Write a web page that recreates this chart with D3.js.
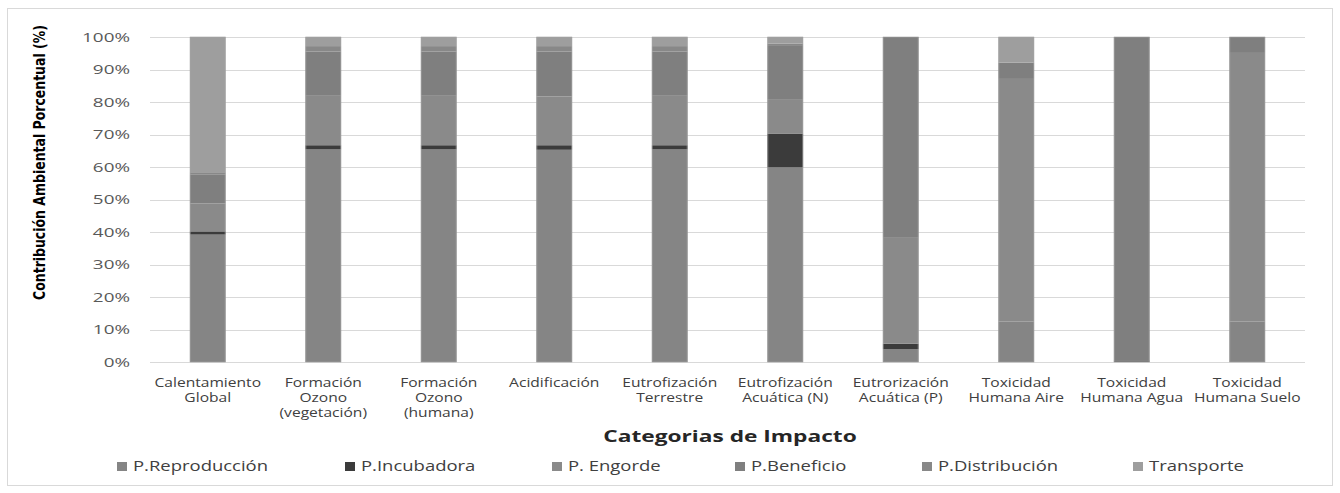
<!DOCTYPE html>
<html><head><meta charset="utf-8">
<script src="https://cdn.jsdelivr.net/npm/d3@7"></script>
<style>body{margin:0;background:#fff}svg{display:block}</style>
</head><body>
<svg id="c" width="1340" height="493"></svg>
<script>
const categories = ["Calentamiento Global","Formación Ozono (vegetación)","Formación Ozono (humana)","Acidificación","Eutrofización Terrestre","Eutrofización Acuática (N)","Eutrorización Acuática (P)","Toxicidad Humana Aire","Toxicidad Humana Agua","Toxicidad Humana Suelo"];
const categoryLines = [["Calentamiento","Global"],["Formación","Ozono","(vegetación)"],["Formación","Ozono","(humana)"],["Acidificación"],["Eutrofización","Terrestre"],["Eutrofización","Acuática (N)"],["Eutrorización","Acuática (P)"],["Toxicidad","Humana Aire"],["Toxicidad","Humana Agua"],["Toxicidad","Humana Suelo"]];
const seriesNames = ["P.Reproducción","P.Incubadora","P. Engorde","P.Beneficio","P.Distribución","Transporte"];
const reproduccion = [39.2,65.4,65.4,65.3,65.4,59.9,4.0,12.5,0.1,12.5];
const incubadora   = [1.0,1.3,1.3,1.4,1.3,10.4,1.6,0.0,0.4,0.0];
const engorde      = [8.6,15.2,15.2,15.0,15.2,10.6,32.6,74.6,0.0,82.6];
const beneficio    = [8.8,13.6,13.6,13.8,13.6,16.6,61.8,5.0,99.5,4.9];
const distribucion = [0.8,1.7,1.7,1.7,1.7,0.5,0.0,0.0,0.0,0.0];
const transporte   = [41.6,2.8,2.8,2.8,2.8,2.0,0.0,7.9,0.0,0.0];
const yTicks = [0,10,20,30,40,50,60,70,80,90,100];

const seriesValues = [reproduccion,incubadora,engorde,beneficio,distribucion,transporte];
const colors = ["#858585","#3b3b3b","#8a8a8a","#7f7f7f","#888888","#9e9e9e"];
const FONT = "'Open Sans',sans-serif";

const svg = d3.select("#c");
svg.append("rect").attr("x",7.5).attr("y",8.5).attr("width",1325).attr("height",477)
  .attr("fill","#fff").attr("stroke","#d9d9d9");

const x = d3.scaleBand().domain(categories).range([150,1305]).paddingInner(0.69).paddingOuter(0.345);
const y = d3.scaleLinear().domain([0,100]).range([362,37]);

// grid
svg.append("g").selectAll("line").data(yTicks).join("line")
  .attr("x1",150).attr("x2",1305).attr("y1",d=>Math.round(y(d))+0.5).attr("y2",d=>Math.round(y(d))+0.5)
  .attr("stroke","#d9d9d9").attr("stroke-width",1);

// y axis
const yAxis = d3.axisLeft(y).tickValues(yTicks).tickFormat(d=>d+"%").tickSize(0).tickPadding(0);
const ga = svg.append("g").attr("transform","translate(130,0)").call(yAxis);
ga.select(".domain").remove();
ga.selectAll(".tick text").attr("font-family",FONT).attr("font-size",13).attr("fill","#595959")
  .attr("x",0).attr("transform","scale(1.45,1)");

// stack
const rows = categories.map((c,i)=>{const o={cat:c}; seriesNames.forEach((s,j)=>o[s]=seriesValues[j][i]); return o;});
const stacked = d3.stack().keys(seriesNames)(rows);
svg.append("g").selectAll("g").data(stacked).join("g").attr("fill",(d,i)=>colors[i])
  .selectAll("rect").data(d=>d).join("rect")
  .attr("x",d=>x(d.data.cat)).attr("width",x.bandwidth())
  .attr("y",d=>y(d[1])).attr("height",d=>Math.max(0,y(d[0])-y(d[1])));
svg.append("g").selectAll("rect").data(categories).join("rect")
  .attr("x",d=>x(d)+0.5).attr("width",x.bandwidth()-1).attr("y",y(100)).attr("height",y(0)-y(100))
  .attr("fill","none").attr("stroke","#a3a3a3").attr("stroke-width",1).attr("stroke-opacity",0.6);

// x labels
categories.forEach((c,i)=>{
  const g = svg.append("g").attr("transform",`translate(${x(c)+x.bandwidth()/2},386.5) scale(1.2,1)`);
  const t = g.append("text").attr("text-anchor","middle").attr("font-family",FONT)
    .attr("font-size",13).attr("fill","#404040");
  categoryLines[i].forEach((l,k)=>t.append("tspan").attr("x",0).attr("dy",k?15.5:0).text(l));
});

// axis titles
svg.append("g").attr("transform","translate(730,442) scale(1.42,1)")
  .append("text").attr("text-anchor","middle")
  .attr("font-family",FONT).attr("font-weight","bold").attr("font-size",16).attr("fill","#262626")
  .text("Categorias de Impacto");
const yt = svg.append("text").attr("text-anchor","middle")
  .attr("font-family","'DejaVu Sans Condensed','Liberation Sans Narrow',sans-serif").attr("font-stretch","condensed")
  .attr("font-weight","bold").attr("font-size",16).attr("fill","#000")
  .text("Contribución Ambiental Porcentual (%)");
const natural = yt.node().getComputedTextLength();
yt.attr("transform",`translate(45,162.5) rotate(-90) scale(${275/natural},1)`);

// legend
const legendX = [117,345,552,735,922,1133];
seriesNames.forEach((s,i)=>{
  svg.append("rect").attr("x",legendX[i]).attr("y",462).attr("width",10).attr("height",9).attr("fill",colors[i]);
  svg.append("g").attr("transform",`translate(${legendX[i]+16},471) scale(1.32,1)`)
    .append("text").attr("font-family",FONT).attr("font-size",14).attr("fill","#404040").text(s);
});
</script>
</body></html>
